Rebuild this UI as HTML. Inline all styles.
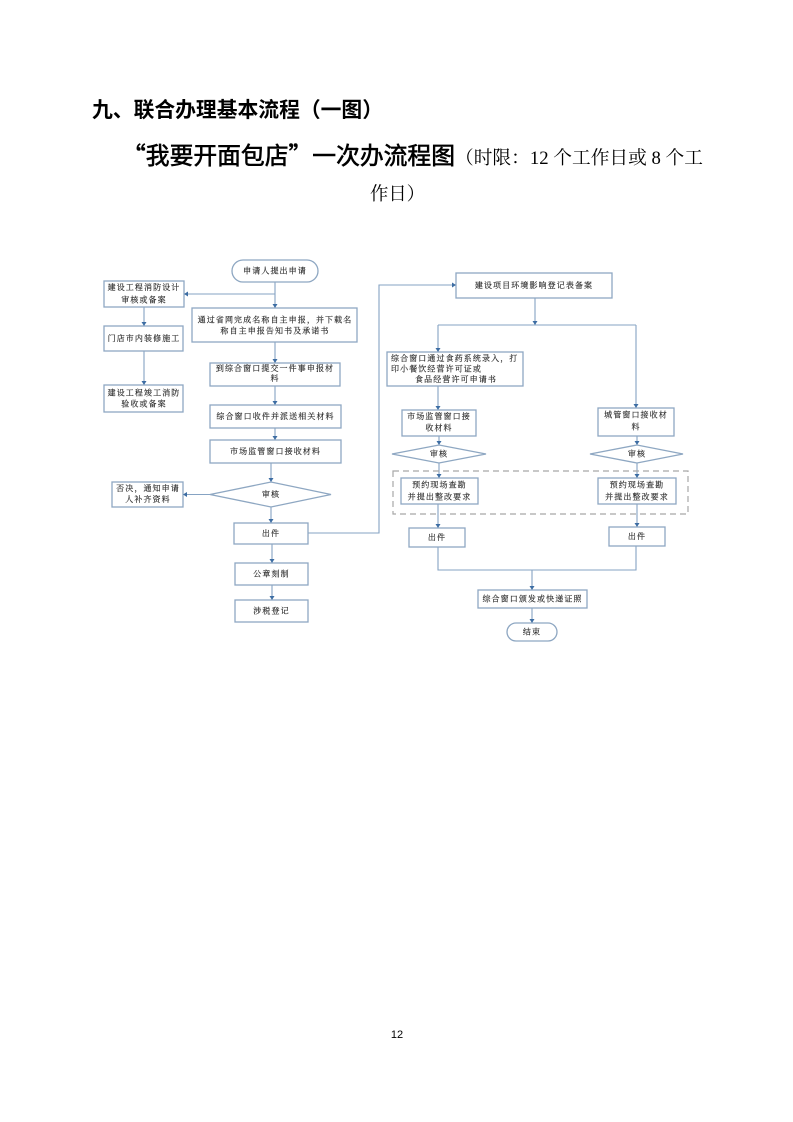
<!DOCTYPE html>
<html>
<head>
<meta charset="utf-8">
<style>
  html,body{margin:0;padding:0;background:#fff;}
  body{width:793px;height:1122px;overflow:hidden;position:relative;}
  svg{position:absolute;left:0;top:0;}
  .t{font-family:"Liberation Serif","Noto Serif CJK SC",serif;font-size:8px;fill:#2a2a2a;stroke:#2a2a2a;stroke-width:0.15;letter-spacing:1.1px;}
  .b{fill:#fff;stroke:#8ea7c2;stroke-width:1.3;}
  .l{fill:none;stroke:#86a3c3;stroke-width:1.1;}
  .a{fill:#3d6da3;}
</style>
</head>
<body>
<svg width="793" height="1122" viewBox="0 0 793 1122" xmlns="http://www.w3.org/2000/svg">
  <!-- Titles -->
  <text x="92" y="117" font-family="'Liberation Sans','Noto Sans CJK SC',sans-serif" font-weight="bold" font-size="21" fill="#000" textLength="291" lengthAdjust="spacingAndGlyphs">九、联合办理基本流程（一图）</text>
  <text x="122" y="164" font-family="'Noto Sans CJK SC',sans-serif" font-size="24" fill="#000" stroke="#000" stroke-width="0.6" textLength="333" lengthAdjust="spacingAndGlyphs">“我要开面包店”一次办流程图</text>
  <text x="455" y="164" font-family="'Liberation Serif','Noto Serif CJK SC',serif" font-size="18.5" fill="#000" textLength="248" lengthAdjust="spacingAndGlyphs">（时限：12 个工作日或 8 个工</text>
  <text x="370" y="200" font-family="'Liberation Serif','Noto Serif CJK SC',serif" font-size="18.5" fill="#000" textLength="55" lengthAdjust="spacingAndGlyphs">作日）</text>

  <!-- Page number -->
  <text x="397" y="1038" text-anchor="middle" font-family="'Liberation Sans',sans-serif" font-size="11" fill="#000">12</text>

  <!-- Connectors (lines) -->
  <line class="l" x1="275" y1="282" x2="275" y2="306"/>
  <line class="l" x1="275" y1="294" x2="186" y2="294"/>
  <line class="l" x1="144" y1="307" x2="144" y2="324"/>
  <line class="l" x1="144" y1="351" x2="144" y2="383"/>
  <line class="l" x1="275" y1="342" x2="275" y2="361"/>
  <line class="l" x1="275" y1="386" x2="275" y2="403"/>
  <line class="l" x1="275" y1="428" x2="275" y2="438"/>
  <line class="l" x1="271" y1="463" x2="271" y2="480"/>
  <line class="l" x1="210" y1="494.5" x2="185" y2="494.5"/>
  <line class="l" x1="271" y1="507" x2="271" y2="521"/>
  <line class="l" x1="272" y1="544" x2="272" y2="561"/>
  <line class="l" x1="272" y1="585" x2="272" y2="598"/>
  <polyline class="l" points="308,533 379,533 379,285 454,285"/>

  <line class="l" x1="535" y1="298" x2="535" y2="325"/>
  <line class="l" x1="438" y1="325" x2="636" y2="325"/>
  <line class="l" x1="438" y1="325" x2="438" y2="350"/>
  <line class="l" x1="438" y1="386" x2="438" y2="408"/>
  <line class="l" x1="636" y1="325" x2="636" y2="406"/>
  <line class="l" x1="439" y1="436" x2="439" y2="443"/>
  <line class="l" x1="637" y1="436" x2="637" y2="443"/>
  <line class="l" x1="439" y1="463" x2="439" y2="476"/>
  <line class="l" x1="637" y1="463" x2="637" y2="476"/>
  <line class="l" x1="438" y1="504" x2="438" y2="526"/>
  <line class="l" x1="637" y1="504" x2="637" y2="525"/>
  <polyline class="l" points="438,547 438,570 636,570 636,546"/>
  <line class="l" x1="532" y1="570" x2="532" y2="588"/>
  <line class="l" x1="532" y1="608" x2="532" y2="621"/>

  <!-- Dashed group -->
  <rect x="393" y="471" width="295" height="43" fill="none" stroke="#a8a8a8" stroke-width="1.2" stroke-dasharray="6 4"/>

  <!-- Left column boxes -->
  <rect class="b" x="232" y="260" width="86" height="22" rx="11" ry="11"/>
  <text class="t" x="275" y="271" text-anchor="middle" dominant-baseline="central">申请人提出申请</text>

  <rect class="b" x="104" y="281" width="80" height="26"/>
  <text class="t" x="144" y="287.5" text-anchor="middle" dominant-baseline="central">建设工程消防设计</text>
  <text class="t" x="144" y="300" text-anchor="middle" dominant-baseline="central">审核或备案</text>

  <rect class="b" x="192" y="308" width="165" height="34"/>
  <text class="t" x="275" y="320" text-anchor="middle" dominant-baseline="central">通过省网完成名称自主申报，并下载名</text>
  <text class="t" x="275" y="331" text-anchor="middle" dominant-baseline="central">称自主申报告知书及承诺书</text>

  <rect class="b" x="104" y="326" width="79" height="25"/>
  <text class="t" x="144" y="338.5" text-anchor="middle" dominant-baseline="central">门店市内装修施工</text>

  <rect class="b" x="104" y="385" width="79" height="27"/>
  <text class="t" x="144" y="393" text-anchor="middle" dominant-baseline="central">建设工程竣工消防</text>
  <text class="t" x="144" y="404" text-anchor="middle" dominant-baseline="central">验收或备案</text>

  <rect class="b" x="210" y="363" width="130" height="23"/>
  <text class="t" x="275" y="368.5" text-anchor="middle" dominant-baseline="central">到综合窗口提交一件事申报材</text>
  <text class="t" x="275" y="378.5" text-anchor="middle" dominant-baseline="central">料</text>

  <rect class="b" x="210" y="405" width="131" height="23"/>
  <text class="t" x="275.5" y="416.5" text-anchor="middle" dominant-baseline="central">综合窗口收件并派送相关材料</text>

  <rect class="b" x="210" y="440" width="131" height="23"/>
  <text class="t" x="275.5" y="451.5" text-anchor="middle" dominant-baseline="central">市场监管窗口接收材料</text>

  <polygon class="b" points="210,494.5 271,482 331,494.5 271,507"/>
  <text class="t" x="271" y="494.5" text-anchor="middle" dominant-baseline="central">审核</text>

  <rect class="b" x="112" y="482" width="71" height="25"/>
  <text class="t" x="148" y="488.5" text-anchor="middle" dominant-baseline="central">否决，通知申请</text>
  <text class="t" x="148" y="499.5" text-anchor="middle" dominant-baseline="central">人补齐资料</text>

  <rect class="b" x="234" y="523" width="74" height="21"/>
  <text class="t" x="271" y="533.5" text-anchor="middle" dominant-baseline="central">出件</text>

  <rect class="b" x="235" y="563" width="73" height="22"/>
  <text class="t" x="271.5" y="574" text-anchor="middle" dominant-baseline="central">公章刻制</text>

  <rect class="b" x="235" y="600" width="73" height="22"/>
  <text class="t" x="271.5" y="611" text-anchor="middle" dominant-baseline="central">涉税登记</text>

  <!-- Right column boxes -->
  <rect class="b" x="456" y="273" width="156" height="25"/>
  <text class="t" x="534" y="285.5" text-anchor="middle" dominant-baseline="central">建设项目环境影响登记表备案</text>

  <rect class="b" x="387" y="352" width="136" height="34"/>
  <text class="t" x="391" y="358.5" dominant-baseline="central" letter-spacing="0.9">综合窗口通过食药系统录入，打</text>
  <text class="t" x="391" y="369" dominant-baseline="central">印小餐饮经营许可证或</text>
  <text class="t" x="456" y="379.5" text-anchor="middle" dominant-baseline="central">食品经营许可申请书</text>

  <rect class="b" x="402" y="410" width="74" height="26"/>
  <text class="t" x="439" y="416.5" text-anchor="middle" dominant-baseline="central">市场监管窗口接</text>
  <text class="t" x="439" y="428" text-anchor="middle" dominant-baseline="central">收材料</text>

  <rect class="b" x="598" y="408" width="76" height="28"/>
  <text class="t" x="636" y="415" text-anchor="middle" dominant-baseline="central">城管窗口接收材</text>
  <text class="t" x="636" y="427" text-anchor="middle" dominant-baseline="central">料</text>

  <polygon class="b" points="392,454 439,445 486,454 439,463"/>
  <text class="t" x="439" y="454" text-anchor="middle" dominant-baseline="central">审核</text>

  <polygon class="b" points="590,454 637,445 683,454 637,463"/>
  <text class="t" x="637" y="454" text-anchor="middle" dominant-baseline="central">审核</text>

  <rect class="b" x="401" y="478" width="77" height="26"/>
  <text class="t" x="439.5" y="485" text-anchor="middle" dominant-baseline="central">预约现场查勘</text>
  <text class="t" x="439.5" y="497" text-anchor="middle" dominant-baseline="central">并提出整改要求</text>

  <rect class="b" x="598" y="478" width="78" height="26"/>
  <text class="t" x="637" y="485" text-anchor="middle" dominant-baseline="central">预约现场查勘</text>
  <text class="t" x="637" y="497" text-anchor="middle" dominant-baseline="central">并提出整改要求</text>

  <rect class="b" x="409" y="528" width="56" height="19"/>
  <text class="t" x="437" y="537.5" text-anchor="middle" dominant-baseline="central">出件</text>

  <rect class="b" x="609" y="527" width="56" height="19"/>
  <text class="t" x="637" y="536.5" text-anchor="middle" dominant-baseline="central">出件</text>

  <rect class="b" x="478" y="590" width="109" height="18"/>
  <text class="t" x="532.5" y="599" text-anchor="middle" dominant-baseline="central">综合窗口颁发或快递证照</text>

  <rect class="b" x="507" y="623" width="50" height="18" rx="9" ry="9"/>
  <text class="t" x="532" y="632" text-anchor="middle" dominant-baseline="central">结束</text>

  <!-- Arrowheads -->
  <polygon class="a" points="272.5,304 277.5,304 275,308"/>
  <polygon class="a" points="188,291.5 188,296.5 184,294"/>
  <polygon class="a" points="141.5,322 146.5,322 144,326"/>
  <polygon class="a" points="141.5,381 146.5,381 144,385"/>
  <polygon class="a" points="272.5,359 277.5,359 275,363"/>
  <polygon class="a" points="272.5,401 277.5,401 275,405"/>
  <polygon class="a" points="272.5,436 277.5,436 275,440"/>
  <polygon class="a" points="268.5,478 273.5,478 271,482"/>
  <polygon class="a" points="187,492 187,497 183,494.5"/>
  <polygon class="a" points="268.5,519 273.5,519 271,523"/>
  <polygon class="a" points="269.5,559 274.5,559 272,563"/>
  <polygon class="a" points="269.5,596 274.5,596 272,600"/>
  <polygon class="a" points="452,282.5 452,287.5 456,285"/>
  <polygon class="a" points="532.5,321 537.5,321 535,325"/>
  <polygon class="a" points="435.5,348 440.5,348 438,352"/>
  <polygon class="a" points="435.5,406 440.5,406 438,410"/>
  <polygon class="a" points="633.5,404 638.5,404 636,408"/>
  <polygon class="a" points="436.5,441 441.5,441 439,445"/>
  <polygon class="a" points="634.5,441 639.5,441 637,445"/>
  <polygon class="a" points="436.5,474 441.5,474 439,478"/>
  <polygon class="a" points="634.5,474 639.5,474 637,478"/>
  <polygon class="a" points="435.5,524 440.5,524 438,528"/>
  <polygon class="a" points="634.5,523 639.5,523 637,527"/>
  <polygon class="a" points="529.5,586 534.5,586 532,590"/>
  <polygon class="a" points="529.5,619 534.5,619 532,623"/>
</svg>
</body>
</html>
